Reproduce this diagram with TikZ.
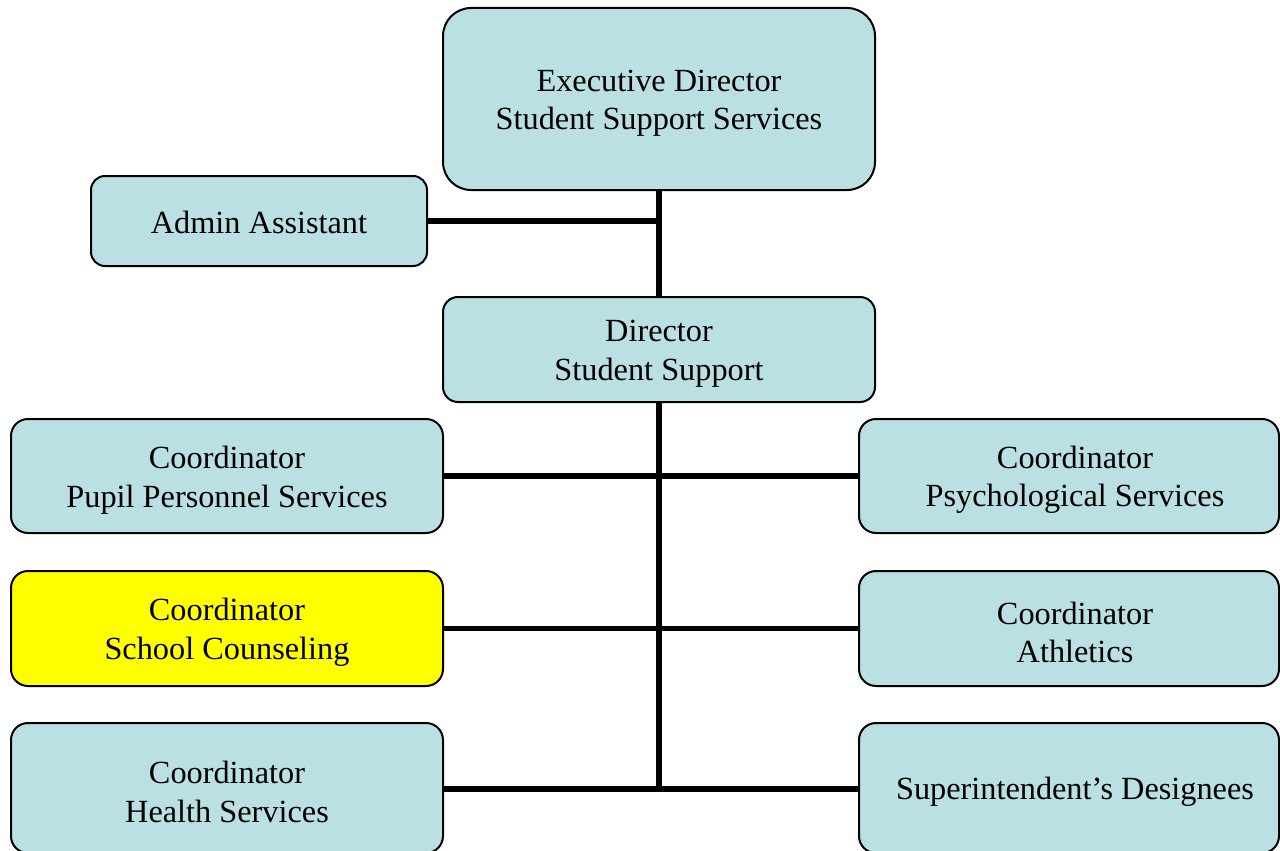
\documentclass[tikz,border=0pt]{standalone}
\usepackage{fontspec}
\setmainfont{Liberation Serif}
\definecolor{boxfill}{HTML}{BBE0E3}
\definecolor{hilite}{HTML}{FFFF00}
\begin{document}
\begin{tikzpicture}[x=1pt,y=-1pt,
  boxbase/.style={draw=black, line width=2pt, fill=boxfill, inner sep=0pt},
  lbl/.style={align=center, inner sep=0pt, font=\fontsize{32.3}{38.5}\selectfont,
    text=black, yshift=-4pt},
  orgbox/.style={boxbase, label={[lbl]center:{#1}}},
  onebox/.style={boxbase, label={[lbl, yshift=3pt]center:{#1}}},
  rbox/.style={boxbase, label={[lbl, xshift=6pt]center:{#1}}},
  link/.style={line width=5.5pt, draw=black}]
\useasboundingbox (0,0) rectangle (1280,851);
\clip (0,0) rectangle (1280,851);
\node[orgbox={Executive Director\\Student Support Services}, rounded corners=28pt, minimum width=432pt, minimum height=182pt] (exec) at (659,99) {};
\node[onebox={Admin Assistant}, rounded corners=14pt, minimum width=336pt, minimum height=90pt] (admin) at (259,221) {};
\node[orgbox={Director\\Student Support}, rounded corners=15pt, minimum width=432pt, minimum height=105pt] (dir) at (659,349.5) {};
\node[orgbox={Coordinator\\Pupil Personnel Services}, rounded corners=17pt, minimum width=432pt, minimum height=114pt] (pps) at (227,476) {};
\node[rbox={Coordinator\\Psychological Services}, rounded corners=17pt, minimum width=420pt, minimum height=114pt] (psych) at (1069,476) {};
\node[orgbox={Coordinator\\School Counseling}, fill=hilite, rounded corners=17pt, minimum width=432pt, minimum height=115pt] (school) at (227,628.5) {};
\node[rbox={Coordinator\\Athletics}, rounded corners=17pt, minimum width=420pt, minimum height=115pt] (ath) at (1069,628.5) {};
\node[orgbox={Coordinator\\Health Services}, rounded corners=17pt, minimum width=432pt, minimum height=130pt] (health) at (227,788) {};
\node[rbox={Superintendent’s Designees}, rounded corners=17pt, minimum width=420pt, minimum height=130pt] (supt) at (1069,788) {};
\draw[link] (exec.south) -- (dir.north);
\draw[link] (admin.east) -- (admin.east -| exec.south);
\draw[link] (dir.south) -- ([yshift=-2.75pt]dir.south |- health.east);
\draw[link] (pps.east) -- (psych.west);
\draw[link] (school.east) -- (ath.west);
\draw[link] ([yshift=-1pt]health.east) -- ([yshift=-1pt]supt.west);
\end{tikzpicture}
\end{document}
